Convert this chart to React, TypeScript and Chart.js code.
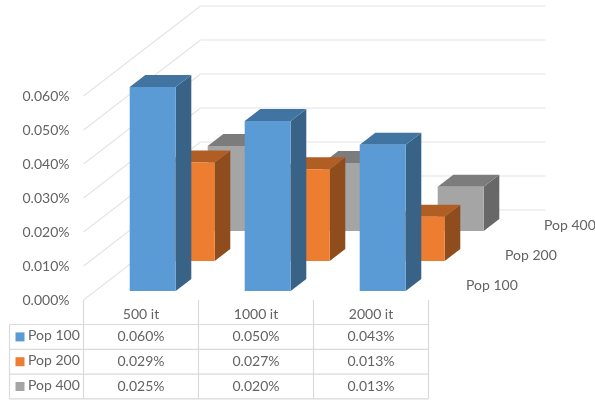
import React, { useEffect, useRef } from "react";
import { Chart, registerables } from "chart.js";

Chart.register(...registerables);

const categories = ["500 it", "1000 it", "2000 it"];
const seriesNames = ["Pop 100", "Pop 200", "Pop 400"];
const pop100 = [0.06, 0.05, 0.043];
const pop200 = [0.029, 0.027, 0.013];
const pop400 = [0.025, 0.02, 0.013];
const seriesValues = [pop100, pop200, pop400];
const frontColors = ["#5B9BD5", "#ED7D31", "#A5A5A5"];
const topColors = ["#4274A1", "#B15E24", "#7C7C7C"];
const sideColors = ["#396287", "#8F4D1E", "#686868"];

const FONT_FAMILY = "Lato, 'Open Sans', sans-serif";
const FONT_SIZE = 14;
const TEXT_COLOR = "#636363";
const GRID_COLOR = "#E4E4E4";
const TABLE_COLOR = "#DADADA";

// Oblique projection: z runs from the front plane (0) to the back wall (1).
const DEPTH_X = 117;
const DEPTH_Y = -90;
const px = (x: number, z: number) => x + DEPTH_X * z;
const py = (y: number, z: number) => y + DEPTH_Y * z;

// Each series occupies one row along the depth axis, with a bar in the middle 40%.
const rowStart = (row: number) => (row + 0.3) / seriesNames.length;
const rowEnd = (row: number) => (row + 0.7) / seriesNames.length;

const formatPercent = (v: number) => `${v.toFixed(3)}%`;

function polygon(ctx: CanvasRenderingContext2D, pts: number[][], fill: string) {
  ctx.beginPath();
  pts.forEach(([x, y], i) => (i ? ctx.lineTo(x, y) : ctx.moveTo(x, y)));
  ctx.closePath();
  ctx.fillStyle = fill;
  ctx.fill();
}

function segment(ctx: CanvasRenderingContext2D, x1: number, y1: number, x2: number, y2: number) {
  ctx.beginPath();
  ctx.moveTo(x1, y1);
  ctx.lineTo(x2, y2);
  ctx.stroke();
}

// Walls: every y tick runs along the side wall and across the back wall.
const wallGridPlugin = {
  id: "wallGrid",
  beforeDatasetsDraw(chart: any) {
    const { ctx, chartArea, scales } = chart;
    ctx.save();
    ctx.strokeStyle = GRID_COLOR;
    ctx.lineWidth = 1.2;
    scales.y.ticks.forEach((tick: any) => {
      const y = scales.y.getPixelForValue(tick.value);
      segment(ctx, chartArea.left, y, px(chartArea.left, 1), py(y, 1));
      segment(ctx, px(chartArea.left, 1), py(y, 1), px(chartArea.right, 1), py(y, 1));
    });
    ctx.restore();
  },
};

// Replaces the flat rectangles with cuboids built from each bar element's geometry.
const cuboidPlugin = {
  id: "cuboid",
  beforeDatasetDraw(chart: any, args: any) {
    const { ctx } = chart;
    const row = args.index;
    const z0 = rowStart(row);
    const z1 = rowEnd(row);
    args.meta.data.forEach((bar: any) => {
      const { x, y, base, width } = bar.getProps(["x", "y", "base", "width"], true);
      const l = x - width / 2;
      const r = x + width / 2;
      polygon(ctx, [[px(r, z0), py(y, z0)], [px(r, z0), py(base, z0)], [px(r, z1), py(base, z1)], [px(r, z1), py(y, z1)]], sideColors[row]);
      polygon(ctx, [[px(l, z0), py(y, z0)], [px(r, z0), py(y, z0)], [px(r, z1), py(y, z1)], [px(l, z1), py(y, z1)]], topColors[row]);
      polygon(ctx, [[px(l, z0), py(y, z0)], [px(r, z0), py(y, z0)], [px(r, z0), py(base, z0)], [px(l, z0), py(base, z0)]], frontColors[row]);
    });
    return false;
  },
};

// Depth-axis labels and the data table with its legend keys.
const annotationPlugin = {
  id: "tableAndDepthAxis",
  afterDraw(chart: any) {
    const { ctx, chartArea, scales } = chart;
    const { left, right, bottom } = chartArea;
    const tableLeft = 9.5;
    const headerBottom = 324.5;
    const rowHeight = 24.8;
    const rowCount = seriesNames.length;
    const tableBottom = headerBottom + rowHeight * rowCount;
    ctx.save();

    ctx.font = `${FONT_SIZE}px ${FONT_FAMILY}`;
    ctx.fillStyle = TEXT_COLOR;
    ctx.textBaseline = "middle";

    ctx.textAlign = "left";
    seriesNames.forEach((name, row) => {
      const z = (row + 0.5) / rowCount;
      ctx.fillText(name, px(right, z) + 18, py(bottom, z));
    });

    ctx.strokeStyle = TABLE_COLOR;
    ctx.lineWidth = 1.2;
    const edges = categories.map((_, i) => scales.x.getPixelForValue(i) - (right - left) / categories.length / 2);
    [...edges, right].forEach((x) => segment(ctx, x, bottom, x, tableBottom));
    segment(ctx, tableLeft, headerBottom, tableLeft, tableBottom);
    for (let r = 0; r <= rowCount; r++) {
      const y = headerBottom + r * rowHeight;
      segment(ctx, tableLeft, y, right, y);
    }

    seriesNames.forEach((name, row) => {
      const cy = headerBottom + rowHeight * (row + 0.5);
      ctx.fillStyle = frontColors[row];
      ctx.fillRect(15.5, cy - 4.5, 9, 9);
      ctx.fillStyle = TEXT_COLOR;
      ctx.textAlign = "left";
      ctx.fillText(name, 28, cy - 1);
      ctx.textAlign = "center";
      seriesValues[row].forEach((v, col) => {
        ctx.fillText(formatPercent(v), scales.x.getPixelForValue(col), cy);
      });
    });
    ctx.restore();
  },
};

export default function App() {
  const canvasRef = useRef<HTMLCanvasElement>(null);

  useEffect(() => {
    document.body.style.margin = "0";
    const chart = new Chart(canvasRef.current!, {
      type: "bar",
      data: {
        labels: categories,
        datasets: seriesNames.map((name, row) => ({
          label: name,
          data: seriesValues[row],
          backgroundColor: frontColors[row],
        })),
      },
      options: {
        responsive: false,
        animation: false,
        layout: { padding: { top: 96, right: 166.5, left: 0, bottom: 0 } },
        datasets: { bar: { grouped: false, barPercentage: 0.4, categoryPercentage: 1 } },
        plugins: { legend: { display: false }, tooltip: { enabled: false } },
        scales: {
          x: {
            grid: { display: false, drawTicks: false },
            border: { display: false },
            ticks: {
              padding: 6,
              color: TEXT_COLOR,
              maxRotation: 0,
              font: { family: FONT_FAMILY, size: FONT_SIZE },
            },
            afterFit: (s: any) => {
              s.height = 102;
            },
          },
          y: {
            min: 0,
            max: 0.06,
            grid: { display: false, drawTicks: false },
            border: { display: false },
            ticks: {
              stepSize: 0.01,
              padding: 14,
              color: TEXT_COLOR,
              font: { family: FONT_FAMILY, size: FONT_SIZE },
              callback: (v: any) => formatPercent(Number(v)),
            },
            afterFit: (s: any) => {
              s.width = 83.5;
            },
          },
        },
      },
      plugins: [wallGridPlugin, cuboidPlugin, annotationPlugin],
    } as any);
    return () => chart.destroy();
  }, []);

  return (
    <div style={{ width: 595, height: 402, background: "#fff" }}>
      <canvas ref={canvasRef} width={595} height={402} style={{ display: "block" }} />
    </div>
  );
}
